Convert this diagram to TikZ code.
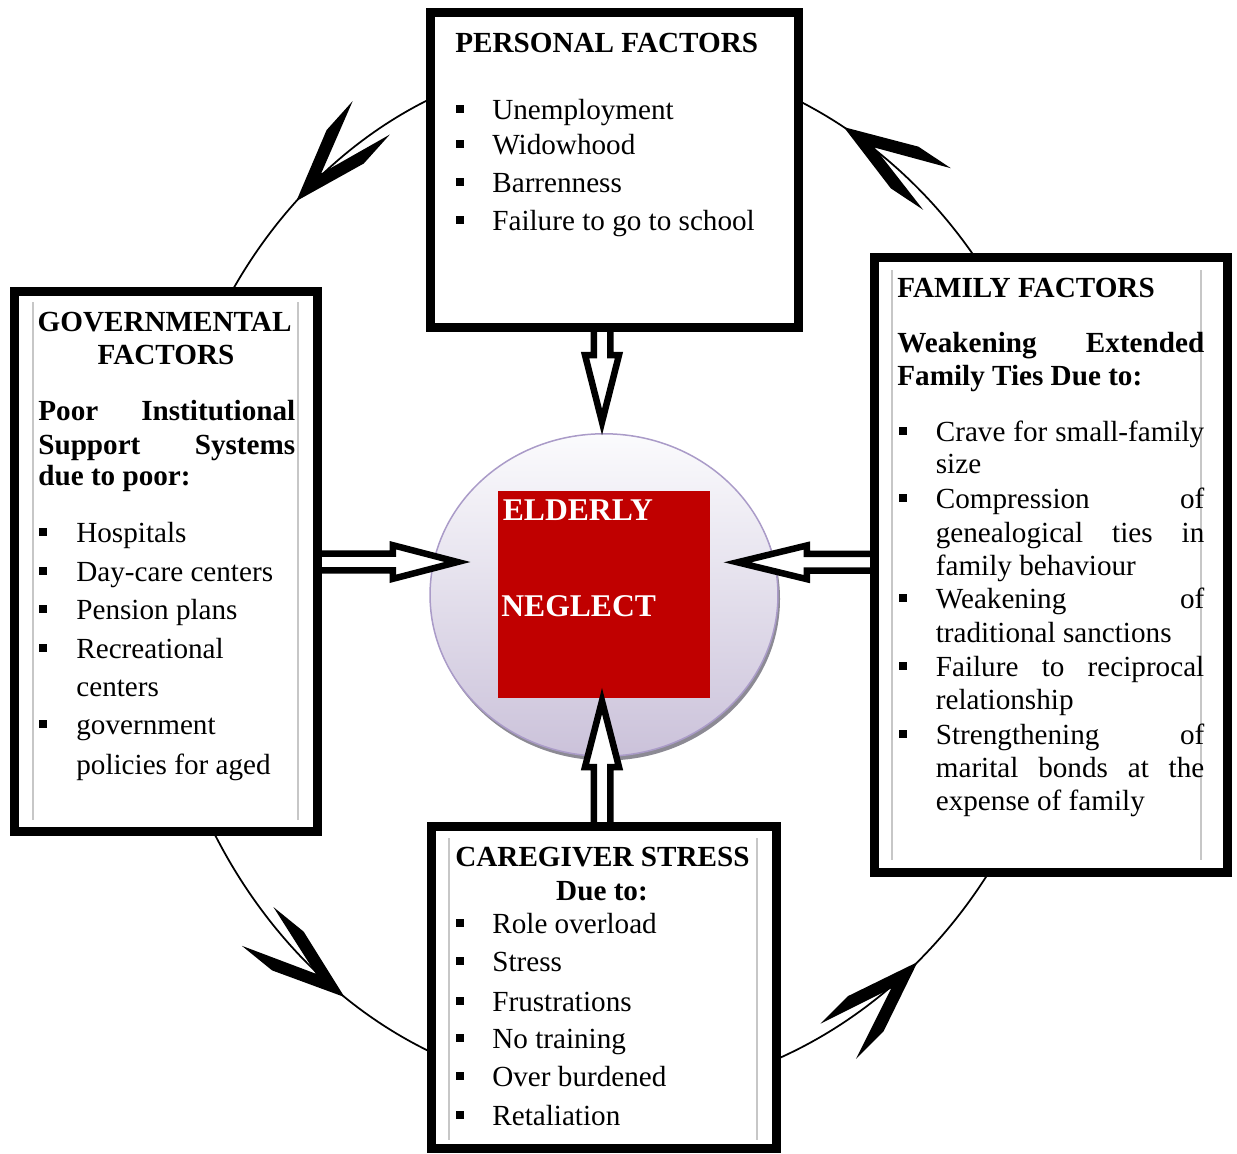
\documentclass[tikz,border=0pt]{standalone}
\usepackage{fontspec}
\setmainfont{Liberation Serif}
\usetikzlibrary{calc,shapes.geometric,decorations.markings}
\pgfdeclarelayer{bg}
\pgfdeclarelayer{mid}
\pgfsetlayers{bg,mid,main}
\definecolor{redsq}{RGB}{192,0,0}
\definecolor{lavtop}{RGB}{251,251,253}
\definecolor{lavbot}{RGB}{203,194,218}
\definecolor{lavline}{RGB}{170,155,200}
\definecolor{shadowc}{RGB}{140,138,148}
\begin{document}
\begin{tikzpicture}[x=0.02cm,y=-0.02cm,
  box/.style={draw=black, fill=white, line width=0.17cm, rectangle, inner sep=0pt},
  txt/.style={inner sep=0pt, anchor=base west, font=\fontsize{16.6}{20}\selectfont},
  hd/.style={txt, font=\fontsize{16.6}{20}\selectfont\bfseries},
  ctxt/.style={inner sep=0pt, anchor=base west, text=white, font=\fontsize{18}{22}\selectfont\bfseries},
  bul/.style={fill=black, rectangle, inner sep=0pt, minimum size=0.16cm},
  faint/.style={draw=black!22, line width=0.025cm},
  cyc/.style={draw=black, line width=0.035cm},
  feather/.style={postaction={decorate}, decoration={markings, mark=at position #1 with {\fill[black] (0,0) -- (-73,25) -- (-112,25) -- (-37,0) -- (-112,-25) -- (-73,-25) -- cycle;}}},
  barrow/.style={draw=black, fill=white, line width=0.13cm, line join=miter}]
\useasboundingbox (0,0) rectangle (1237,1153);

% ---------- Personal factors ----------
\node[box, minimum width=7.37cm, minimum height=6.31cm] (P) at (614.5,170) {};
\node[hd] (pH) at (455,52.7) {PERSONAL FACTORS};
\node[bul] (pb1) at (460,109) {};   \node[txt] (p1) at (492,119.3) {Unemployment};
\node[bul] (pb2) at (460,143.5) {}; \node[txt] (p2) at (492,154) {Widowhood};
\node[bul] (pb3) at (460,181.5) {}; \node[txt] (p3) at (492,192) {Barrenness};
\node[bul] (pb4) at (460,220) {};   \node[txt] (p4) at (492,230.7) {Failure to go to school};

% ---------- Governmental factors ----------
\node[box, minimum width=6.07cm, minimum height=10.81cm] (G) at (166,561.5) {};
\draw[faint] (33,302) -- (33,820);
\draw[faint] (298,302) -- (298,820);
\node[hd] (gH1) at (37.3,331) {GOVERNMENTAL};
\node[hd, anchor=base] (gH2) at (166,364) {FACTORS};
\node[hd] (gS1) at (38,420) {\makebox[5.14cm][s]{Poor\hfill Institutional}};
\node[hd] (gS2) at (38,454.5) {\makebox[5.14cm][s]{Support\hfill Systems}};
\node[hd] (gS3) at (38,485.5) {due to poor:};
\node[bul] (gb1) at (43,531.5) {}; \node[txt] (g1) at (76,542) {Hospitals};
\node[bul] (gb2) at (43,570.5) {}; \node[txt] (g2) at (76,581) {Day-care centers};
\node[bul] (gb3) at (43,608.5) {}; \node[txt] (g3) at (76,619) {Pension plans};
\node[bul] (gb4) at (43,647.5) {}; \node[txt] (g4) at (76,658) {Recreational};
\node[txt] (g4b) at (76,696) {centers};
\node[bul] (gb5) at (43,724) {};   \node[txt] (g5) at (76,734.5) {government};
\node[txt] (g5b) at (76,774.5) {policies for aged};

% ---------- Family factors ----------
\node[box, minimum width=7.07cm, minimum height=12.31cm] (F) at (1051,565) {};
\draw[faint] (892,270) -- (892,860);
\draw[faint] (1201,270) -- (1201,860);
\node[hd] (fH) at (897,297) {FAMILY FACTORS};
\node[hd] (fS1) at (897,352) {\makebox[6.14cm][s]{Weakening\hfill Extended}};
\node[hd] (fS2) at (897,385.5) {Family Ties Due to:};
\node[bul] (fb1) at (903,430.5) {}; \node[txt] (f1) at (935.5,441) {\makebox[5.37cm][s]{Crave\hfill for\hfill small-family}};
\node[txt] (f1b) at (935.5,473.6) {size};
\node[bul] (fb2) at (903,497.5) {}; \node[txt] (f2) at (935.5,508) {\makebox[5.37cm][s]{Compression\hfill of}};
\node[txt] (f2b) at (935.5,542) {\makebox[5.37cm][s]{genealogical\hfill ties\hfill in}};
\node[txt] (f2c) at (935.5,575) {family behaviour};
\node[bul] (fb3) at (903,597.5) {}; \node[txt] (f3) at (935.5,608) {\makebox[5.37cm][s]{Weakening\hfill of}};
\node[txt] (f3b) at (935.5,642) {traditional sanctions};
\node[bul] (fb4) at (903,666) {};   \node[txt] (f4) at (935.5,676.5) {\makebox[5.37cm][s]{Failure\hfill to\hfill reciprocal}};
\node[txt] (f4b) at (935.5,709) {relationship};
\node[bul] (fb5) at (903,733.5) {}; \node[txt] (f5) at (935.5,744) {\makebox[5.37cm][s]{Strengthening\hfill of}};
\node[txt] (f5b) at (935.5,777) {\makebox[5.37cm][s]{marital\hfill bonds\hfill at\hfill the}};
\node[txt] (f5c) at (935.5,810) {expense of family};

% ---------- Caregiver stress ----------
\node[box, minimum width=6.91cm, minimum height=6.45cm] (C) at (604,987.5) {};
\draw[faint] (449,838) -- (449,1140);
\draw[faint] (757,838) -- (757,1140);
\node[hd] (cH) at (455,866.7) {CAREGIVER STRESS};
\node[hd, anchor=base] (cH2) at (602,900) {Due to:};
\node[bul] (cb1) at (460,922.5) {};  \node[txt] (c1) at (492,933) {Role overload};
\node[bul] (cb2) at (460,961) {};    \node[txt] (c2) at (492,971.7) {Stress};
\node[bul] (cb3) at (460,1000.5) {}; \node[txt] (c3) at (492,1011) {Frustrations};
\node[bul] (cb4) at (460,1037.5) {}; \node[txt] (c4) at (492,1048) {No training};
\node[bul] (cb5) at (460,1076) {};   \node[txt] (c5) at (492,1086.7) {Over burdened};
\node[bul] (cb6) at (460,1115) {};   \node[txt] (c6) at (492,1125.7) {Retaliation};

% ---------- centre and cycle (background) ----------
\begin{pgfonlayer}{bg}
  \fill[shadowc] (606,599) ellipse [x radius=174, y radius=161.5];
  \node[ellipse, draw=lavline, line width=0.03cm, top color=lavtop, bottom color=lavbot,
        minimum width=6.96cm, minimum height=6.45cm, inner sep=0pt] (E) at (604,595) {};
  \node[rectangle, fill=redsq, minimum width=4.25cm, minimum height=4.134cm, inner sep=0pt] (R) at (603.75,594.35) {};
  \node[ctxt] (e1) at (502.5,520) {ELDERLY};
  \node[ctxt] (e2) at (501,616) {NEGLECT};
  \coordinate (O) at (604,568);
  % personal -> governmental
  \draw[cyc, feather=0.559] ($(O)+(250:443 and 510)$) arc[start angle=250, end angle=208, x radius=443, y radius=510];
  % governmental -> caregiver
  \draw[cyc, feather=0.648] ($(O)+(153:452 and 524)$) arc[start angle=153, end angle=109, x radius=452, y radius=524];
  % caregiver -> family
  \draw[cyc, feather=0.584] ($(O)+(72:471 and 528)$) arc[start angle=72, end angle=32, x radius=471, y radius=528];
  % family -> personal
  \draw[cyc, feather=0.72] ($(O)+(326:465.5 and 514.4)$) arc[start angle=326, end angle=291, x radius=465.5, y radius=514.4];
\end{pgfonlayer}

% ---------- block arrows ----------
\begin{pgfonlayer}{mid}
  \coordinate (tA) at (602,422);
  \draw[barrow] ($(P.south -| tA)+(-8.25,-5)$) -- ($(tA)+(-8.25,-67)$) -- ($(tA)+(-17,-67)$) -- (tA)
     -- ($(tA)+(17,-67)$) -- ($(tA)+(8.25,-67)$) -- ($(P.south -| tA)+(8.25,-5)$);
  \coordinate (tL) at (457.5,562);
  \draw[barrow] ($(G.east |- tL)+(-5,-8.4)$) -- ($(tL)+(-64.65,-8.4)$) -- ($(tL)+(-64.65,-16.8)$) -- (tL)
     -- ($(tL)+(-64.65,16.8)$) -- ($(tL)+(-64.65,8.4)$) -- ($(G.east |- tL)+(-5,8.4)$);
  \coordinate (tR) at (737.5,562.3);
  \draw[barrow] ($(F.west |- tR)+(5,-8.4)$) -- ($(tR)+(69.25,-8.4)$) -- ($(tR)+(69.25,-16.8)$) -- (tR)
     -- ($(tR)+(69.25,16.8)$) -- ($(tR)+(69.25,8.4)$) -- ($(F.west |- tR)+(5,8.4)$);
  \coordinate (tB) at (602,701);
  \draw[barrow] ($(C.north -| tB)+(-8.25,5)$) -- ($(tB)+(-8.25,66)$) -- ($(tB)+(-17,66)$) -- (tB)
     -- ($(tB)+(17,66)$) -- ($(tB)+(8.25,66)$) -- ($(C.north -| tB)+(8.25,5)$);
\end{pgfonlayer}
\end{tikzpicture}
\end{document}
